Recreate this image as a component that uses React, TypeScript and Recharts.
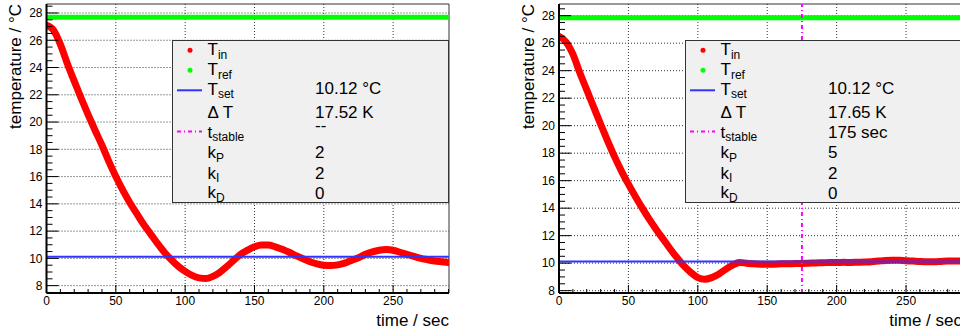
import React from 'react';
import { LineChart, Line, XAxis, YAxis, CartesianGrid, ReferenceLine, ReferenceArea } from 'recharts';

// time axis (sec), read every 5 s
const time = [
  0, 5, 10, 15, 20, 25, 30, 35, 40, 45, 50, 55, 60, 65, 70, 75, 80, 85, 90, 95,
  100, 105, 110, 115, 120, 125, 130, 135, 140, 145, 150, 155, 160, 165, 170, 175, 180, 185, 190, 195,
  200, 205, 210, 215, 220, 225, 230, 235, 240, 245, 250, 255, 260, 265, 270, 275, 280, 285, 290,
];

// T_in, left run (kP = 2)
const tinLeft = [
  27.1, 26.75, 25.7, 24.3, 23.0, 21.75, 20.55, 19.4, 18.3, 17.1, 16.0, 15.0, 14.1, 13.3, 12.5, 11.8, 11.1, 10.45, 9.9, 9.42,
  9.05, 8.75, 8.57, 8.52, 8.68, 8.98, 9.4, 9.85, 10.3, 10.6, 10.85, 10.98, 10.98, 10.85, 10.67, 10.45, 10.2, 9.97, 9.75, 9.6,
  9.5, 9.47, 9.52, 9.65, 9.85, 10.05, 10.3, 10.48, 10.6, 10.65, 10.6, 10.45, 10.3, 10.15, 10.0, 9.9, 9.8, 9.75, 9.7,
];

// T_in, right run (kP = 5)
const tinRight = [
  26.5, 26.1, 25.2, 23.85, 22.6, 21.35, 20.1, 18.9, 17.75, 16.7, 15.75, 14.85, 14.0, 13.2, 12.45, 11.75, 11.05, 10.4, 9.8, 9.32,
  8.95, 8.83, 8.95, 9.2, 9.55, 9.85, 10.05, 10.0, 9.95, 9.93, 9.93, 9.93, 9.95, 9.95, 9.97, 9.98, 10.0, 10.02, 10.03, 10.05,
  10.05, 10.06, 10.05, 10.07, 10.08, 10.1, 10.15, 10.2, 10.22, 10.22, 10.18, 10.15, 10.12, 10.1, 10.1, 10.12, 10.15, 10.15, 10.16,
];

// T_ref, read every 50 s
const refTime = [0, 50, 100, 150, 200, 250, 290];
const trefLeft = [27.68, 27.68, 27.68, 27.68, 27.68, 27.68, 27.68];
const trefRight = [27.85, 27.85, 27.85, 27.85, 27.85, 27.85, 27.85];

const T_SET = 10.12;
const T_STABLE_RIGHT = 175;

const xMajor = [0, 50, 100, 150, 200, 250];
const xMinor = [
  0, 10, 20, 30, 40, 50, 60, 70, 80, 90, 100, 110, 120, 130, 140, 150, 160, 170, 180, 190,
  200, 210, 220, 230, 240, 250, 260, 270, 280, 290,
];
const yMajor = [8, 10, 12, 14, 16, 18, 20, 22, 24, 26, 28];

const legendLabels = [
  { main: 'T', sub: 'in' },
  { main: 'T', sub: 'ref' },
  { main: 'T', sub: 'set' },
  { main: 'Δ T', sub: '' },
  { main: 't', sub: 'stable' },
  { main: 'k', sub: 'P' },
  { main: 'k', sub: 'I' },
  { main: 'k', sub: 'D' },
];
const valuesLeft = ['10.12 °C', '17.52 K', '--', '2', '2', '0'];
const valuesRight = ['10.12 °C', '17.65 K', '175 sec', '5', '2', '0'];

const X_MAX = 290.3;
const FONT = '"Liberation Sans", Arial, Helvetica, sans-serif';

const halfSteps = (lo: number, hi: number) => {
  const out: number[] = [];
  for (let v = lo; v <= hi + 1e-9; v += 0.5) out.push(Math.round(v * 10) / 10);
  return out;
};

const XTick = (props: any) => {
  const { x, y, payload } = props;
  const v = payload.value;
  const major = v % 50 === 0;
  const y0 = y - 3;
  return (
    <g>
      <line x1={x} x2={x} y1={y0} y2={y0 - (major ? 8 : 4)} stroke="#000" strokeWidth={1} />
      {major && (
        <text x={x} y={y} dy="0.71em" textAnchor="middle" fontSize={12} fill="#000">
          {v}
        </text>
      )}
    </g>
  );
};

const YTick = (props: any) => {
  const { x, y, payload } = props;
  const v = payload.value;
  const major = Math.abs(v / 2 - Math.round(v / 2)) < 1e-6;
  const x0 = x + 4;
  return (
    <g>
      <line x1={x0} x2={x0 + (major ? 12 : 6)} y1={y} y2={y} stroke="#000" strokeWidth={1} />
      {major && (
        <text x={x} y={y} dy="0.355em" textAnchor="end" fontSize={12} fill="#000">
          {v}
        </text>
      )}
    </g>
  );
};

const XTitle = (props: any) => {
  const vb = props.viewBox;
  return (
    <text x={vb.x + vb.width} y={vb.y + 33} textAnchor="end" fontSize={17} fill="#000">
      time / sec
    </text>
  );
};

const YTitle = (props: any) => {
  const vb = props.viewBox;
  const bx = vb.x + vb.width - 25.5;
  return (
    <text transform={`translate(${bx},${vb.y}) rotate(-90)`} textAnchor="end" fontSize={17} fill="#000">
      temperature / °C
    </text>
  );
};

// baselines of the legend rows, relative to the box top
const rowBase = [15, 35, 54.5, 78.3, 97.5, 118, 138.5, 158];
const valueBase = [54.3, 78.3, 98, 118.3, 139.3, 159];

function LegendBox({ left, values, stableSet }: { left: number; values: string[]; stableSet: boolean }) {
  return (
    <svg style={{ position: 'absolute', left, top: 40, overflow: 'visible' }} width={277} height={163}>
      <rect x={0.5} y={0.5} width={276} height={162} fill="#f0f0f0" stroke="#333" strokeWidth={1} />
      <circle cx={18} cy={10.3} r={2.5} fill="#ff0000" />
      <circle cx={18} cy={30.3} r={2.5} fill="#00ff00" />
      <line x1={5} x2={30} y1={50.3} y2={50.3} stroke="#3333ff" strokeWidth={2} />
      <line x1={5} x2={30} y1={91.5} y2={91.5} stroke="#ff00ff" strokeWidth={2} strokeDasharray="4 3 1 3" />
      {legendLabels.map((l, i) => (
        <text key={i} x={35.5} y={rowBase[i]} fontSize={17} fill="#000">
          {l.main}
          {l.sub && (
            <tspan fontSize={12} dy={3.5}>
              {l.sub}
            </tspan>
          )}
        </text>
      ))}
      {values.map((v, i) => (
        <text key={i} x={143} y={i === 2 && !stableSet ? 91 : valueBase[i]} fontSize={17} fill="#000">
          {v}
        </text>
      ))}
    </svg>
  );
}

function Panel(props: {
  left: number;
  width: number;
  yAxisWidth: number;
  marginRight: number;
  yDomain: [number, number];
  tin: number[];
  tref: number[];
  values: string[];
  tStable?: number;
}) {
  const { left, width, yAxisWidth, marginRight, yDomain, tin, tref, values, tStable } = props;
  const rows = time.map((t, i) => ({ t, tin: tin[i] }));
  const refRows = refTime.map((t, i) => ({ t, tref: tref[i] }));
  const yTicks = halfSteps(Math.ceil(yDomain[0] * 2) / 2, Math.floor(yDomain[1] * 2) / 2);
  return (
    <div style={{ position: 'absolute', left, top: 0, width, height: 333 }}>
      <LineChart width={width} height={333} data={rows} margin={{ top: 4, right: marginRight, bottom: 0, left: 0 }}>
        <CartesianGrid stroke="#333" strokeDasharray="1 2" horizontalValues={yMajor} verticalValues={xMajor.slice(1)} />
        <XAxis
          dataKey="t"
          type="number"
          domain={[0, X_MAX]}
          allowDataOverflow
          ticks={xMinor}
          interval={0}
          height={40}
          tickSize={0}
          tickMargin={3}
          tick={(p: any) => <XTick {...p} />}
          axisLine={{ stroke: '#000', strokeWidth: 2 }}
          label={{ content: XTitle }}
        />
        <YAxis
          type="number"
          domain={yDomain}
          allowDataOverflow
          ticks={yTicks}
          interval={0}
          width={yAxisWidth}
          tickSize={0}
          tickMargin={4}
          tick={(p: any) => <YTick {...p} />}
          axisLine={{ stroke: '#000', strokeWidth: 2 }}
          label={{ content: YTitle }}
        />
        <ReferenceArea x1={0} x2={X_MAX} y1={yDomain[0]} y2={yDomain[1]} fill="none" stroke="#333" strokeWidth={1} />
        <Line data={refRows} dataKey="tref" stroke="#00ff00" strokeWidth={5} dot={false} isAnimationActive={false} />
        <Line
          dataKey="tin"
          type="monotone"
          stroke="#ff0000"
          strokeWidth={7}
          strokeLinecap="round"
          dot={false}
          isAnimationActive={false}
        />
        <ReferenceLine y={T_SET} stroke="#3333ff" strokeWidth={2} />
        {tStable != null && (
          <ReferenceLine x={tStable} stroke="#ff00ff" strokeWidth={2} strokeDasharray="4 3 1 3" />
        )}
      </LineChart>
      <LegendBox left={yAxisWidth + 125.5} values={values} stableSet={tStable != null} />
    </div>
  );
}

export default function App() {
  return (
    <div
      style={{
        position: 'absolute',
        left: 0,
        top: 0,
        width: 960,
        height: 333,
        overflow: 'hidden',
        background: '#fff',
        fontFamily: FONT,
      }}
    >
      <Panel
        left={0}
        width={480}
        yAxisWidth={46.5}
        marginRight={31}
        yDomain={[7.46, 28.66]}
        tin={tinLeft}
        tref={trefLeft}
        values={valuesLeft}
      />
      <Panel
        left={480}
        width={520}
        yAxisWidth={79}
        marginRight={38}
        yDomain={[7.83, 28.85]}
        tin={tinRight}
        tref={trefRight}
        values={valuesRight}
        tStable={T_STABLE_RIGHT}
      />
    </div>
  );
}
